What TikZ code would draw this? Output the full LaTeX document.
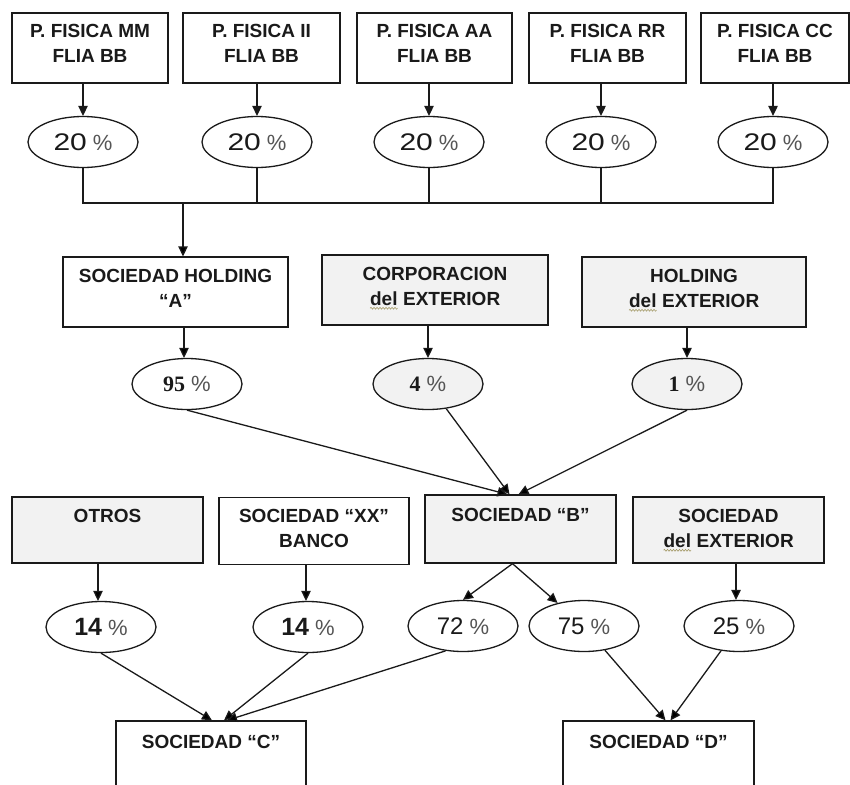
\documentclass[tikz,border=0pt]{standalone}
\usepackage{fontspec}
\setmainfont{Liberation Sans}
\newfontfamily\serifnum{Liberation Serif}
\newfontfamily\widenum[FakeStretch=1.25]{Liberation Sans}
\usetikzlibrary{arrows.meta,shapes.geometric,decorations.pathmorphing}

\definecolor{ink}{RGB}{26,26,26}
\definecolor{shade}{RGB}{242,242,242}
\definecolor{pctgray}{RGB}{85,85,85}
\definecolor{squig}{RGB}{165,155,105}

% box label: fixed-size parbox, text hanging from the top edge
\newcommand{\boxtext}[4][12]{\parbox[c][#3pt][t]{#2pt}{\vspace*{#1pt}\centering #4\par}}
% lowercase "del" with its wavy underline
\newcommand{\pdel}{\tikz[baseline=(dw.base)]{%
  \node[inner sep=0pt, outer sep=0pt] (dw) {del};
  \draw[draw=squig, line width=0.6pt, decorate,
        decoration={snake, amplitude=0.9pt, segment length=3pt}]
    ([yshift=-3pt]dw.base west) -- ([yshift=-3pt]dw.base east);}}
% percent sign, lighter than the figure
\newcommand{\pc}{\hspace{0.25em}{\color{pctgray}\normalfont\fontsize{22}{22}\selectfont\%}}

\tikzset{
  box/.style={draw=ink, line width=1.3pt, inner sep=0pt, text=ink,
              font=\bfseries\fontsize{19}{25}\selectfont},
  grey/.style={fill=shade},
  pct/.style={ellipse, draw=ink, line width=1.3pt, minimum width=110pt,
              minimum height=51pt, inner sep=0pt, text=ink,
              font=\fontsize{24}{24}\selectfont},
  ln/.style={draw=ink, line width=1.3pt},
  arr/.style={ln, -{Triangle[length=10pt,width=9.5pt]}},
}

\begin{document}
\begin{tikzpicture}[x=1pt,y=-1pt]
\path[use as bounding box] (0,0) rectangle (850,784);
\clip (0,0) rectangle (850,784);
\fill[white] (0,0) rectangle (850,784);

% ---- shareholders (family members)
\node[box] (p1) at (90,48)    {\boxtext[11]{156}{70}{P. FISICA MM\\FLIA BB}};
\node[box] (p2) at (261.5,48) {\boxtext[11]{157}{70}{P. FISICA II\\FLIA BB}};
\node[box] (p3) at (434.5,48) {\boxtext[11]{155}{70}{P. FISICA AA\\FLIA BB}};
\node[box] (p4) at (607.5,48) {\boxtext[11]{157}{70}{P. FISICA RR\\FLIA BB}};
\node[box] (p5) at (775,48)   {\boxtext[11]{148}{70}{P. FISICA CC\\FLIA BB}};

\node[pct] (e1) at (83,142)  {{\widenum 20}\pc};
\node[pct] (e2) at (257,142) {{\widenum 20}\pc};
\node[pct] (e3) at (429,142) {{\widenum 20}\pc};
\node[pct] (e4) at (601,142) {{\widenum 20}\pc};
\node[pct] (e5) at (773,142) {{\widenum 20}\pc};

\foreach \p/\e in {p1/e1,p2/e2,p3/e3,p4/e4,p5/e5}
  \draw[arr] (\e |- \p.south) -- (\e.north);

% collecting bus
\coordinate (bus) at (0,203);
\coordinate (busJ) at (183,203);
\draw[ln] (e1.south) -- (e1.south |- bus) -- (e5.south |- bus) -- (e5.south);
\foreach \e in {e2,e3,e4}
  \draw[ln] (\e.south) -- (\e.south |- bus);

% ---- second level
\node[box] (hA) at (175.5,292) {\boxtext{225}{70}{SOCIEDAD HOLDING\\“A”}};
\node[box,grey] (corp) at (435,290) {\boxtext{226}{70}{CORPORACION\\\pdel{} EXTERIOR}};
\node[box,grey] (hExt) at (694,292) {\boxtext{224}{70}{HOLDING\\\pdel{} EXTERIOR}};

\draw[arr] (busJ) -- (busJ |- hA.north);

\node[pct] (e95) at (187,384) {{\serifnum\bfseries\fontsize{22}{22}\selectfont 95}\pc};
\node[pct,grey] (e4p) at (428,384) {{\serifnum\bfseries\fontsize{22}{22}\selectfont 4}\pc};
\node[pct,grey] (e1p) at (687,384) {{\serifnum\bfseries\fontsize{22}{22}\selectfont 1}\pc};

\draw[arr] ([xshift=-3pt]e95.center |- hA.south) -- ([xshift=-3pt]e95.north);
\draw[arr] (e4p |- corp.south) -- (e4p.north);
\draw[arr] (e1p |- hExt.south) -- (e1p.north);

% ---- third level
\node[box,grey] (otros) at (107.5,530) {\boxtext{191}{66}{OTROS}};
\node[box] (xx) at (314,531) {\boxtext{190}{67}{SOCIEDAD “XX”\\BANCO}};
\node[box,grey] (sB) at (520.5,529) {\boxtext[13]{191}{68}{SOCIEDAD “B”}};
\node[box,grey] (sExt) at (728.5,530) {\boxtext{191}{66}{SOCIEDAD\\\pdel{} EXTERIOR}};

\draw[arr] (e95.south) -- ([xshift=-13pt]sB.north);
\draw[arr] (e4p) -- ([xshift=-11pt]sB.north);
\draw[arr] (e1p.south) -- ([xshift=-2pt]sB.north);

\node[pct] (e14a) at (101,627) {{\bfseries\fontsize{25}{25}\selectfont 14}\pc};
\node[pct] (e14b) at (308,627) {{\bfseries\fontsize{25}{25}\selectfont 14}\pc};
\node[pct] (e72) at (463,626) {72\pc};
\node[pct] (e75) at (584,626) {75\pc};
\node[pct] (e25) at (739,626) {25\pc};

\draw[arr] ([xshift=-3pt]e14a.center |- otros.south) -- ([xshift=-3pt]e14a.north);
\draw[arr] ([xshift=-2pt]e14b.center |- xx.south) -- ([xshift=-2pt]e14b.north);
\draw[arr] ([xshift=-3pt]e25.center |- sExt.south) -- ([xshift=-3pt]e25.north);
\draw[arr] ([xshift=-8pt]sB.south) -- (e72.north);
\draw[arr] ([xshift=-8pt]sB.south) -- (e75);

% ---- fourth level
\node[box] (sC) at (211,761) {\boxtext[14]{190}{80}{SOCIEDAD “C”}};
\node[box] (sD) at (658.5,761) {\boxtext[14]{191}{80}{SOCIEDAD “D”}};

\draw[arr] (e14a.south) -- ([xshift=1pt]sC.north);
\draw[arr] (e14b.south) -- ([xshift=13pt]sC.north);
\draw[arr] (e72.235) -- ([xshift=16pt]sC.north);
\draw[arr] (e75) -- ([xshift=7pt]sD.north);
\draw[arr] (e25) -- ([xshift=12pt]sD.north);
\end{tikzpicture}
\end{document}
